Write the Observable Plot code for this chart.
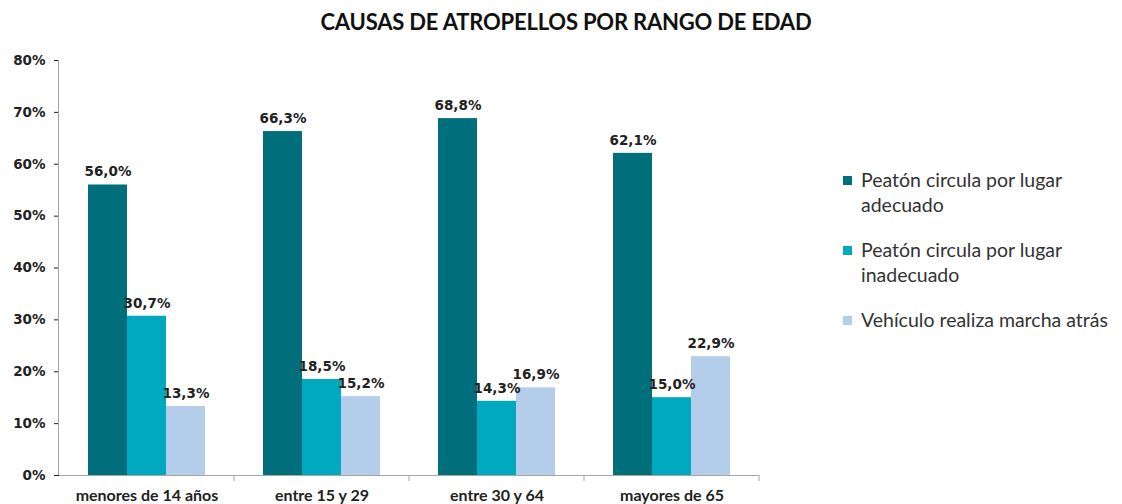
<!DOCTYPE html>
<html>
<head>
<meta charset="utf-8">
<script src="https://cdn.jsdelivr.net/npm/d3@7"></script>
<script src="https://cdn.jsdelivr.net/npm/@observablehq/plot@0.6"></script>
<style>
  html, body { margin: 0; padding: 0; background: #fff; }
  #wrap { position: relative; width: 1122px; height: 504px; overflow: hidden; font-family: Lato, "Open Sans", sans-serif; }
  #title { height: 48px; line-height: 44px; text-align: center; font-weight: 700; font-size: 22px; color: #111; padding-left: 10px; letter-spacing: -0.2px; }
  #legend { position: absolute; left: 843px; top: 167px; font-size: 19.5px; color: #333; line-height: 25px; }
  .item { display: flex; align-items: flex-start; margin-bottom: 20px; }
  .sw { width: 9px; height: 9px; margin-top: 9px; margin-right: 9px; flex: none; }
</style>
</head>
<body>
<div id="wrap">
  <div id="title">CAUSAS DE ATROPELLOS POR RANGO DE EDAD</div>
  <div id="chart"></div>
  <div id="legend"></div>
</div>
<script>
const categories = ["menores de 14 años", "entre 15 y 29", "entre 30 y 64", "mayores de 65"];
const seriesNames = ["Peatón circula por lugar adecuado", "Peatón circula por lugar inadecuado", "Vehículo realiza marcha atrás"];
const seriesLegend = [["Peatón circula por lugar", "adecuado"], ["Peatón circula por lugar", "inadecuado"], ["Vehículo realiza marcha atrás"]];
const colors = ["#006E7B", "#00A8C0", "#B4CDEA"];
const adecuado = [56.0, 66.3, 68.8, 62.1];
const inadecuado = [30.7, 18.5, 14.3, 15.0];
const marchaAtras = [13.3, 15.2, 16.9, 22.9];
const yTicks = [0, 10, 20, 30, 40, 50, 60, 70, 80];

const values = [adecuado, inadecuado, marchaAtras];
const data = [];
categories.forEach((c, i) => seriesNames.forEach((s, j) => data.push({cat: c, series: s, value: values[j][i]})));

const fmt = v => v.toFixed(1).replace(".", ",") + "%";
const numFont = "'DejaVu Sans', Verdana, sans-serif";

const plot = Plot.plot({
  width: 1122,
  height: 456,
  marginTop: 12,
  marginBottom: 29,
  marginLeft: 59,
  marginRight: 363,
  style: {fontFamily: "Lato, 'Open Sans', sans-serif", color: "#222", background: "transparent"},
  fx: {domain: categories, paddingInner: 0.33, paddingOuter: 0.165, label: null},
  x: {domain: seriesNames, padding: 0, axis: null},
  y: {domain: [0, 80], label: null},
  color: {domain: seriesNames, range: colors},
  marks: [
    Plot.barY(data, {fx: "cat", x: "series", y: "value", fill: "series"}),
    Plot.text(data, {fx: "cat", x: "series", y: "value", text: d => fmt(d.value), dy: -13, fontWeight: "bold", fontSize: 13.5, fontFamily: numFont, fill: "#222"}),
    Plot.axisY(yTicks, {tickFormat: d => d + "%", label: null, tickSize: 5, tickPadding: 9, fontWeight: "bold", fontSize: 13.5, fontFamily: numFont, color: "#222"}),
    Plot.axisFx({anchor: "bottom", label: null, tickSize: 0, tickPadding: 14, fontWeight: "bold", fontSize: 16, color: "#222"})
  ]
});

const svg = d3.select(plot);

// Excel-style axis lines using the plot's scales
const fx = Plot.scale({fx: plot.scale("fx")});
const y = Plot.scale({y: plot.scale("y")});
const bw = fx.bandwidth;
const step = (fx.apply(categories[1]) - fx.apply(categories[0]));
const gap = (step - bw) / 2;
const lefts = categories.map(c => fx.apply(c) - gap);
const x0 = lefts[0], x1 = fx.apply(categories[categories.length - 1]) + bw + gap;
const y0 = y.apply(0), yTop = y.apply(80);

// move the y axis from the first facet's edge to the plot's left edge
svg.selectAll("g[aria-label^='y-axis']").each(function() {
  const el = d3.select(this);
  const t = el.attr("transform") || "";
  const m = /translate\(([-\d.]+),([-\d.]+)\)/.exec(t);
  const tx = m ? +m[1] : 0, ty = m ? +m[2] : 0;
  el.attr("transform", `translate(${tx - gap},${ty})`);
});
svg.selectAll("g[aria-label='y-axis tick']").attr("stroke", "#a6a6a6");

const g = svg.append("g").attr("stroke", "#a6a6a6").attr("stroke-width", 1);
g.append("line").attr("x1", x0).attr("x2", x1).attr("y1", y0 + 0.5).attr("y2", y0 + 0.5);
g.append("line").attr("x1", x0 - 0.5).attr("x2", x0 - 0.5).attr("y1", yTop).attr("y2", y0);
lefts.slice(1).concat([x1]).forEach(xx => g.append("line").attr("x1", xx).attr("x2", xx).attr("y1", y0).attr("y2", y0 + 6));

document.getElementById("chart").appendChild(plot);

const legend = document.getElementById("legend");
seriesLegend.forEach((lines, j) => {
  const item = document.createElement("div");
  item.className = "item";
  const sw = document.createElement("div");
  sw.className = "sw";
  sw.style.background = colors[j];
  const t = document.createElement("div");
  t.innerHTML = lines.join("<br>");
  item.appendChild(sw); item.appendChild(t);
  legend.appendChild(item);
});
</script>
</body>
</html>
